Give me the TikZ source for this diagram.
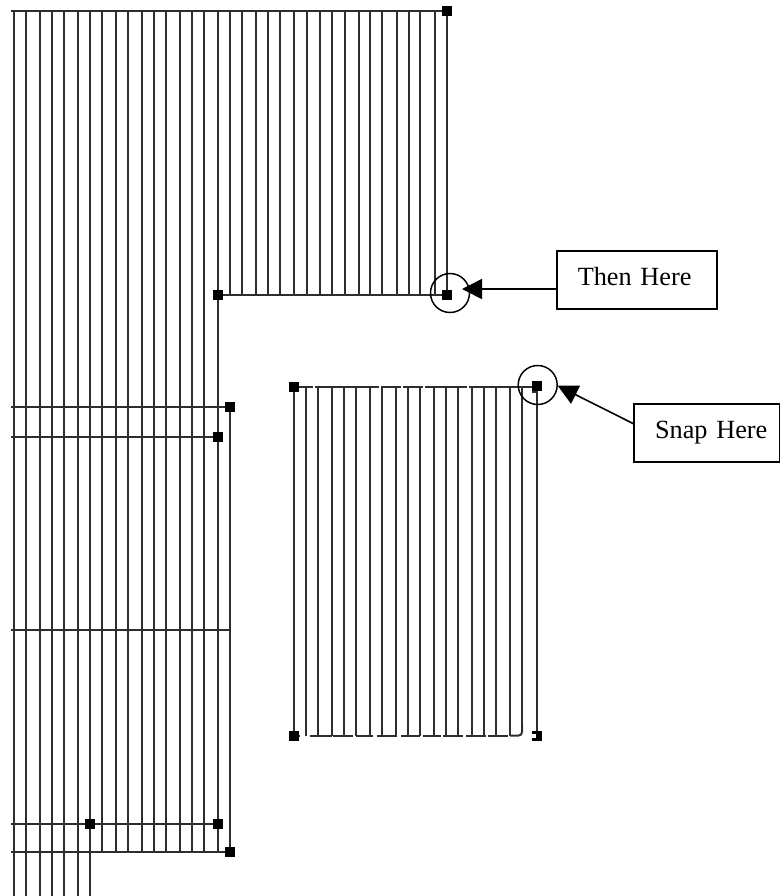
\documentclass[tikz,border=0pt]{standalone}
\usepackage{fontspec}
\setmainfont{Liberation Serif}
\usetikzlibrary{arrows.meta}
\tikzset{
  wire/.style={line width=1.5pt, black!82},
  ring/.style={line width=1.1pt},
  pointer/.style={line width=1.2pt, -{Triangle[length=15pt,width=15pt]}},
  calloutbox/.style={draw, line width=1.2pt, anchor=west, outer sep=0pt, inner xsep=0pt,
    align=left, minimum height=43.5pt, text depth=4.7pt, font=\fontsize{19.7}{24}\selectfont,
    execute at begin node=\hspace*{15.8pt}}
}
\begin{document}
\begin{tikzpicture}[x=0.75pt, y=-0.75pt]
  \useasboundingbox (0,0) rectangle (780,896);
  \foreach \x in {13.7,26,40,52,64,78,90}
    \draw[wire] (\x,11) -- (\x,896);
  \foreach \x in {102,116,128,142,154,166,180,192,204,218}
    \draw[wire] (\x,11) -- (\x,851);
  \foreach \x in {230,242,256,268,280,294,307,320,332,345,359,370,382,397,409,420,435,447}
    \draw[wire] (\x,11) -- (\x,295);
  \draw[wire] (230,407) -- (230,851);
  \draw[wire] (11,11) -- (447,11);
  \draw[wire] (218,295) -- (447,295);
  \draw[wire] (11,407) -- (230,407);
  \draw[wire] (11,437) -- (218,437);
  \draw[wire] (11,630) -- (230,630);
  \draw[wire] (11,824) -- (218,824);
  \draw[wire] (11,851.5) -- (230,851.5);
  \foreach \x in {294,306,318,332,344,356,370,382,396,408,420,434,446,458,472,484,496,510}
    \draw[wire] (\x,387) -- (\x,735.5);
  \draw[wire] (522,387) -- (522,725);
  \draw[wire] (537,387) -- (537,732);
  \draw[wire] (294,387) -- (313.3,387) (315.3,387) -- (379.3,387) (381.3,387) -- (401.3,387)
    (403.3,387) -- (423.3,387) (425.3,387) -- (467.3,387) (469.3,387) -- (537,387);
  \draw[wire] (532,392) -- (537,392);
  \draw[wire] (294,735.5) -- (300,735.5) (309.5,735.5) -- (331.7,735.5) (333.3,735.5) -- (353.3,735.5)
    (356,735.5) -- (373.3,735.5) (377.3,735.5) -- (397.3,735.5) (400.7,735.5) -- (420,735.5)
    (422.7,735.5) -- (440.7,735.5) (443,735.5) -- (463.3,735.5) (466,735.5) -- (486,735.5)
    (488.3,735.5) -- (508.3,735.5);
  \draw[wire, rounded corners=2.5pt] (510,735.5) -- (522,735.5) -- (522,725);
  \foreach \x/\y in {447/11,218/295,447/295,230/407,218/437,90/824,218/824,230/851.5,294/387,537/386,294/735.5,537/735.5}
    \fill[shift={(\x,\y)}] (-5,-5) rectangle (5,5);
  \fill[white] (531.5,734) rectangle (535.5,737.5);
  \draw[ring] (450,293) circle (19.5);
  \draw[ring] (537.7,385) circle (19.5);
  \node[calloutbox, text width=120.2pt] (thenbox) at (556.7,280) {Then Here};
  \node[calloutbox, text width=109pt] (snapbox) at (634,433) {Snap Here};
  \coordinate (thentip) at (462,289);
  \coordinate (snaptip) at (557.7,385.7);
  \draw[pointer] (thenbox.west |- thentip) -- (thentip);
  \draw[pointer] ([yshift=6.75pt]snapbox.west) -- (snaptip);
\end{tikzpicture}
\end{document}
